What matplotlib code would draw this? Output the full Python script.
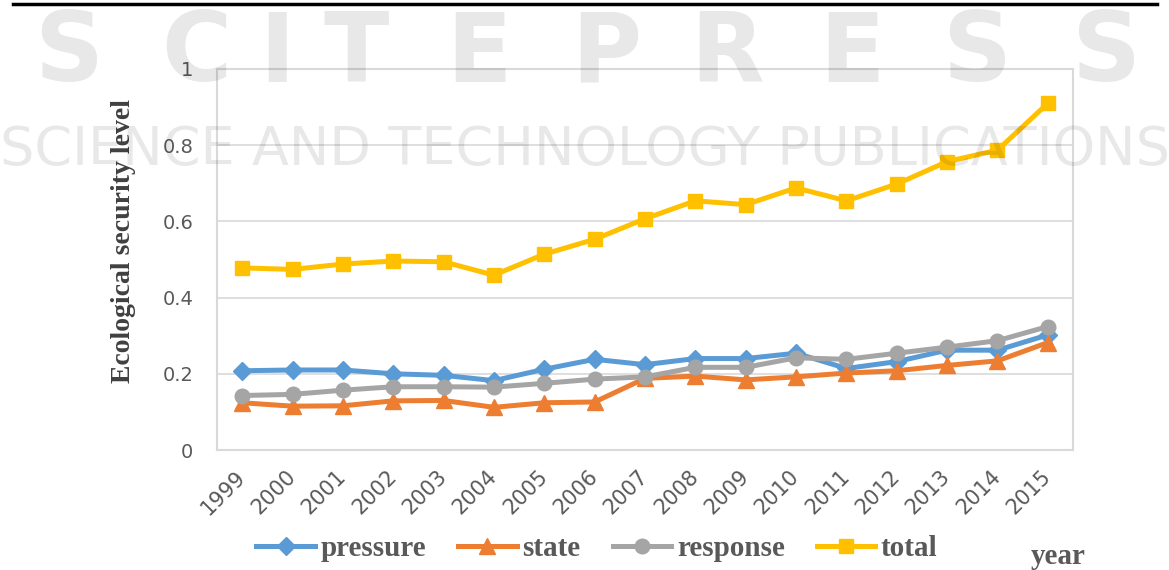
import matplotlib
matplotlib.use("Agg")
import matplotlib.pyplot as plt
from matplotlib.lines import Line2D

years = [str(y) for y in range(1999, 2016)]
pressure = [0.208, 0.210, 0.210, 0.200, 0.196, 0.182, 0.212, 0.238, 0.224, 0.240,
            0.240, 0.254, 0.214, 0.232, 0.262, 0.262, 0.302]
state = [0.124, 0.115, 0.116, 0.129, 0.130, 0.112, 0.124, 0.126, 0.188, 0.194,
         0.184, 0.192, 0.202, 0.208, 0.222, 0.234, 0.282]
response = [0.143, 0.146, 0.157, 0.166, 0.166, 0.165, 0.175, 0.186, 0.192, 0.217,
            0.217, 0.242, 0.238, 0.254, 0.270, 0.287, 0.324]
total = [0.478, 0.474, 0.488, 0.496, 0.494, 0.459, 0.514, 0.553, 0.607, 0.654,
         0.644, 0.688, 0.654, 0.698, 0.757, 0.787, 0.910]
y_ticks = [0, 0.2, 0.4, 0.6, 0.8, 1]

# watermark letters and their centres (px across the page)
wm_letters = list("SCITEPRESS")
wm_x = [69, 196, 277, 356, 479, 606, 727, 852, 977, 1106]

W, H = 1169, 570
fig = plt.figure(figsize=(W / 100, H / 100), dpi=100)

fig.add_artist(Line2D([0.011, 0.99], [0.993, 0.993], color="black", linewidth=2.5))

ax = fig.add_axes([217 / W, 1 - 450 / H, 856 / W, 381 / H])

x = range(len(years))
ax.plot(x, pressure, color="#5B9BD5", lw=3.6, marker="D", ms=9, label="pressure", zorder=3)
ax.plot(x, state, color="#ED7D31", lw=3.6, marker="^", ms=11, label="state", zorder=3)
ax.plot(x, response, color="#A5A5A5", lw=3.6, marker="o", ms=10.5, label="response", zorder=3)
ax.plot(x, total, color="#FFC000", lw=3.6, marker="s", ms=10.5, label="total", zorder=3)

ax.set_xlim(-0.5, len(years) - 0.5)
ax.set_ylim(0, 1)
ax.set_yticks(y_ticks)
ax.set_yticklabels([f"{v:g}" for v in y_ticks])
ax.set_xticks(list(x))
ax.set_xticklabels(years, rotation=45, ha="right", va="center", rotation_mode="anchor")
ax.tick_params(axis="both", length=0, labelcolor="#595959")
ax.tick_params(axis="y", pad=17, labelsize=14)
ax.tick_params(axis="x", pad=17, labelsize=15)
ax.grid(axis="y", color="#d9d9d9", lw=1.2)
for s in ax.spines.values():
    s.set_color("#d9d9d9")
    s.set_linewidth(1.5)

fig.text(123 / W, 1 - 241 / H, "Ecological security level", rotation=90, ha="center",
         va="center", family="Liberation Serif", fontweight="bold", fontsize=20,
         color="#404040")

fig.legend(loc="center", bbox_to_anchor=(597 / W, 1 - 549 / H), ncol=4, frameon=False,
           prop={"family": "Liberation Serif", "weight": "bold", "size": 21},
           handlelength=2.0, handletextpad=0.2, columnspacing=1.1, labelcolor="#595959")
fig.text(1058 / W, 1 - 556 / H, "year", family="Liberation Serif", fontweight="bold",
         fontsize=21, color="#595959", ha="center", va="center")

# faint publisher watermark laid over the page
for ch, px in zip(wm_letters, wm_x):
    fig.text(px / W, 1 - 55 / H, ch, ha="center", va="center", fontsize=69,
             fontweight="bold", color="black", alpha=0.09, zorder=10)
fig.text(0.5, 1 - 150 / H, "SCIENCE AND TECHNOLOGY PUBLICATIONS", ha="center", va="center",
         fontsize=39, color="black", alpha=0.09, zorder=10)

fig.savefig("out.png", dpi=100)
